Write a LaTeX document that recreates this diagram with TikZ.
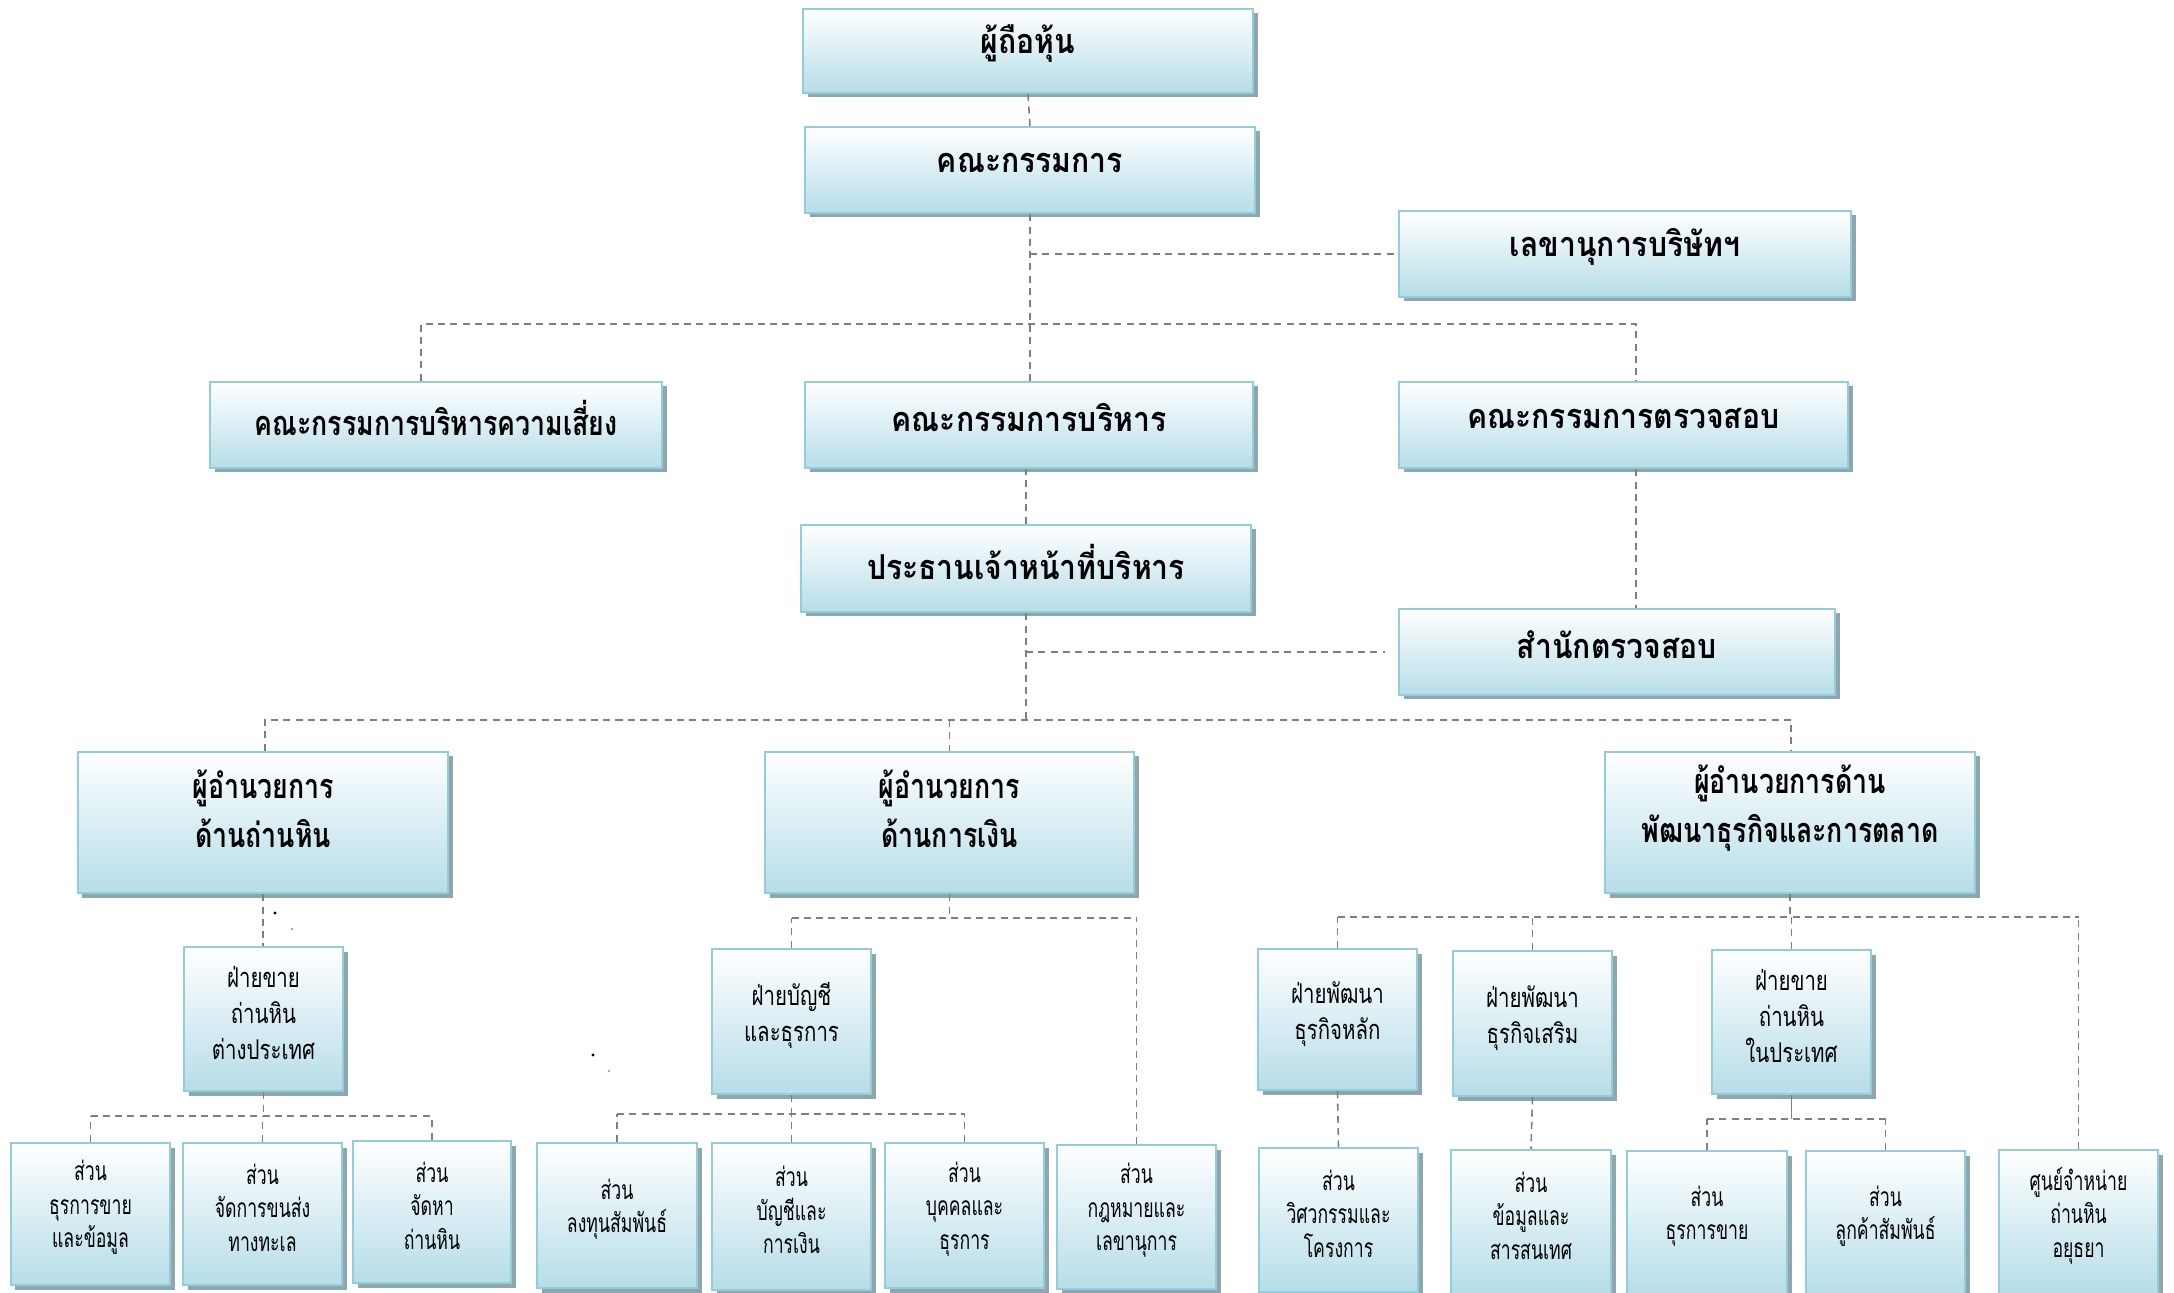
\documentclass[tikz,border=0pt]{standalone}
\usepackage{fontspec}
\newfontfamily\thb[Script=Thai,FakeStretch=0.88]{Loma}
\newfontfamily\thm[Script=Thai,FakeStretch=0.78]{Loma}
\newfontfamily\thc[Script=Thai,FakeStretch=0.75]{Loma}
\newfontfamily\thd[Script=Thai,FakeStretch=0.67]{Loma}
\usetikzlibrary{shadows}
\definecolor{bordc}{HTML}{92CDDC}
\definecolor{botc}{HTML}{B6DDE8}
\definecolor{shadc}{HTML}{8EA6AC}
\definecolor{linec}{HTML}{7F7F7F}
\tikzset{
 boxbase/.style={draw=bordc, line width=1.4pt, top color=white, bottom color=botc, inner sep=0pt,
   general shadow={fill=shadc, shadow xshift=0.09cm, shadow yshift=-0.09cm}},
 bigtxt/.style={align=center, inner sep=0pt, yshift=0.14cm, font=\thb\bfseries\fontsize{19.5}{26}\selectfont},
 bignarrow/.style={bigtxt, font=\thm\bfseries\fontsize{19.5}{26}\selectfont},
 midtxt/.style={align=center, inner sep=0pt, yshift=0.28cm, font=\thm\bfseries\fontsize{19.5}{28}\selectfont},
 smltxt/.style={align=center, inner sep=0pt, yshift=0.11cm, font=\thc\fontsize{15.5}{20.5}\selectfont},
 bottxt/.style={align=center, inner sep=0pt, yshift=0.13cm, font=\thd\fontsize{15}{19}\selectfont},
 conn/.style={draw=linec, line width=0.9pt, dash pattern=on 4pt off 3pt},
 solidconn/.style={draw=linec, line width=0.9pt},
 speck/.style={fill=black},
 speckgray/.style={fill=gray!70},
}
\newcommand\bx[7]{\node[boxbase, minimum width={(#4-#2)*0.02cm}, minimum height={(#5-#3)*0.02cm}] (#1) at ({(#2+#4)/2},{(#3+#5)/2}) {};
\node[#6] (#1t) at (#1.center) {#7};}
\begin{document}
\begin{tikzpicture}[x=0.02cm,y=-0.02cm]
\useasboundingbox (0,0) rectangle (2174,1293);
% level 1
\bx{A}{803}{9}{1253}{93}{bigtxt}{ผู้ถือหุ้น}
\bx{B}{805}{127}{1255}{213}{bigtxt}{คณะกรรมการ}
\bx{C}{1399}{211}{1851}{297}{bigtxt}{เลขานุการบริษัทฯ}
\bx{D}{210}{382}{662}{468}{bignarrow}{คณะกรรมการบริหารความเสี่ยง}
\bx{E}{805}{382}{1253}{468}{bigtxt}{คณะกรรมการบริหาร}
\bx{F}{1399}{382}{1848}{468}{bigtxt}{คณะกรรมการตรวจสอบ}
\bx{G}{801}{525}{1251}{612}{bigtxt}{ประธานเจ้าหน้าที่บริหาร}
\bx{H}{1399}{609}{1835}{695}{bigtxt}{สำนักตรวจสอบ}
% level 2
\bx{I}{78}{752}{448}{893}{midtxt}{ผู้อำนวยการ\\ด้านถ่านหิน}
\bx{J}{765}{752}{1134}{893}{midtxt}{ผู้อำนวยการ\\ด้านการเงิน}
\bx{K}{1605}{752}{1975}{893}{midtxt}{ผู้อำนวยการด้าน\\พัฒนาธุรกิจและการตลาด}
% level 3
\bx{L}{184}{947}{343}{1091}{smltxt}{ฝ่ายขาย\\ถ่านหิน\\ต่างประเทศ}
\bx{N}{712}{949}{871}{1094}{smltxt}{ฝ่ายบัญชี\\และธุรการ}
\bx{Q}{1258}{949}{1417}{1090}{smltxt}{ฝ่ายพัฒนา\\ธุรกิจหลัก}
\bx{R}{1453}{951}{1612}{1096}{smltxt}{ฝ่ายพัฒนา\\ธุรกิจเสริม}
\bx{S}{1712}{950}{1871}{1094}{smltxt}{ฝ่ายขาย\\ถ่านหิน\\ในประเทศ}
% level 4
\bx{M1}{11}{1143}{170}{1285}{bottxt}{ส่วน\\ธุรการขาย\\และข้อมูล}
\bx{M2}{183}{1143}{342}{1285}{bottxt}{ส่วน\\จัดการขนส่ง\\ทางทะเล}
\bx{M3}{353}{1141}{511}{1283}{bottxt}{ส่วน\\จัดหา\\ถ่านหิน}
\bx{O1}{537}{1143}{697}{1288}{bottxt}{ส่วน\\ลงทุนสัมพันธ์}
\bx{O2}{712}{1143}{871}{1290}{bottxt}{ส่วน\\บัญชีและ\\การเงิน}
\bx{O3}{885}{1143}{1044}{1288}{bottxt}{ส่วน\\บุคคลและ\\ธุรการ}
\bx{P}{1057}{1145}{1216}{1289}{bottxt}{ส่วน\\กฎหมายและ\\เลขานุการ}
\bx{Q2}{1259}{1148}{1418}{1292}{bottxt}{ส่วน\\วิศวกรรมและ\\โครงการ}
\bx{R2}{1451}{1150}{1611}{1294}{bottxt}{ส่วน\\ข้อมูลและ\\สารสนเทศ}
\bx{S1}{1627}{1151}{1787}{1295}{bottxt}{ส่วน\\ธุรการขาย}
\bx{S2}{1806}{1151}{1965}{1295}{bottxt}{ส่วน\\ลูกค้าสัมพันธ์}
\bx{T}{1999}{1150}{2158}{1294}{bottxt}{ศูนย์จำหน่าย\\ถ่านหิน\\อยุธยา}
% connectors top
\coordinate (dl) at (421,324);
\coordinate (fr) at (1636,324);
\coordinate (gj) at (1026,720);
\coordinate (il) at (265,720);
\coordinate (kr) at (1791,720);
\draw[conn] (A.south) -- (B.north);
\draw[conn] (B.south) -- (B.south |- E.north);
\draw[conn] (B.south |- C.west) -- (C.west);
\draw[conn] (dl |- D.north) -- (dl) -- (fr) -- (fr |- F.north);
\draw[conn] (G.north) -- (G.north |- E.south);
\draw[conn] (fr |- F.south) -- (fr |- H.north);
\draw[conn] (G.south) -- (G.south |- gj);
\draw[conn] (G.south |- H.west) -- ([xshift=-0.25cm]H.west);
\draw[conn] (il |- I.north) -- (il) -- (kr) -- (kr |- K.north);
\draw[conn] (J.north |- il) -- (J.north);
% I branch
\coordinate (lj) at (265,1116);
\draw[conn] (I.south) -- (I.south |- L.north);
\draw[conn] (L.south) -- (L.south |- lj);
\draw[conn] (M1.north |- lj) -- (M3.north |- lj);
\foreach \n in {M1,M2,M3} \draw[conn] (\n.north) -- (\n.north |- lj);
% J branch
\coordinate (jj) at (950,918);
\draw[conn] (J.south) -- (J.south |- jj);
\draw[conn] (N.north |- jj) -- (P.north |- jj);
\foreach \n in {N,P} \draw[conn] (\n.north) -- (\n.north |- jj);
\coordinate (nj) at (792,1114);
\draw[conn] (N.south) -- (N.south |- nj);
\draw[conn] (O1.north |- nj) -- (O3.north |- nj);
\foreach \n in {O1,O2,O3} \draw[conn] (\n.north) -- (\n.north |- nj);
% K branch
\coordinate (kj) at (1791,917);
\draw[conn] (K.south) -- (K.south |- kj);
\draw[conn] (Q.north |- kj) -- (T.north |- kj);
\foreach \n in {Q,R,S,T} \draw[conn] (\n.north) -- (\n.north |- kj);
\draw[conn] (Q.south) -- (Q2.north);
\draw[conn] (R.south) -- (R2.north);
\coordinate (sj) at (1791,1119);
\draw[solidconn] (S.south) -- (S.south |- sj);
\draw[conn] (S1.north |- sj) -- (S2.north |- sj);
\foreach \n in {S1,S2} \draw[conn] (\n.north) -- (\n.north |- sj);
% stray specks
\fill[speck] (275,913) circle (1.6);
\fill[speckgray] (292,929) circle (1.4);
\fill[speck] (593,1055) circle (1.6);
\fill[speckgray] (609,1071) circle (1.4);
\end{tikzpicture}
\end{document}
